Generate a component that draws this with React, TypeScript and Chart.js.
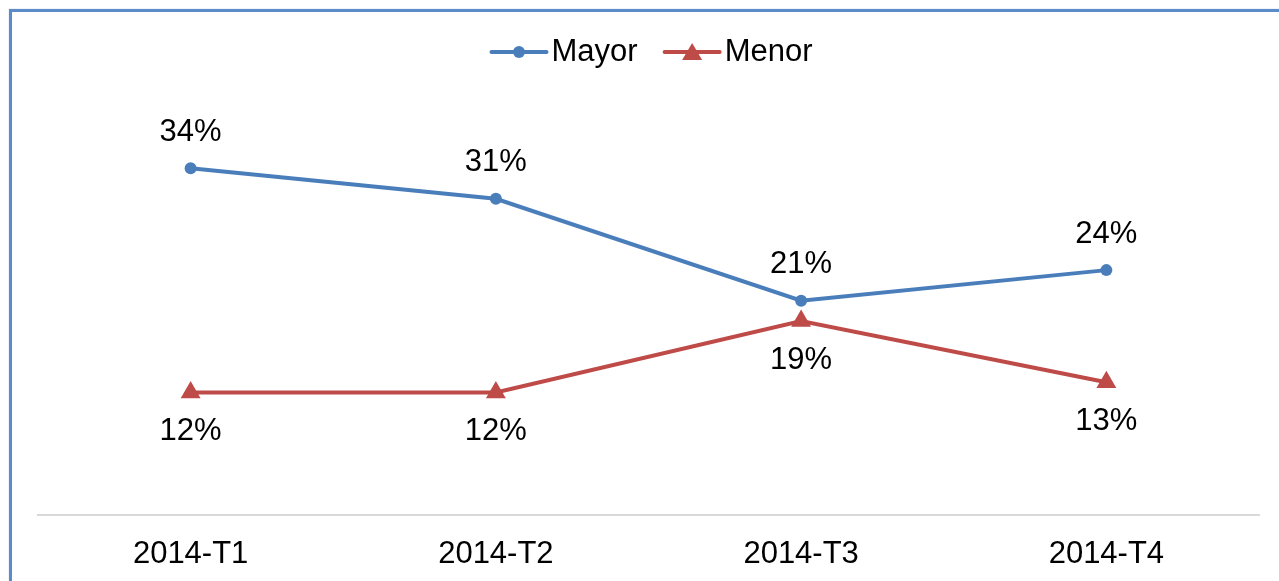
import React, { useEffect, useRef } from "react";
import { Chart, registerables } from "chart.js";

Chart.register(...registerables);

const categories = ["2014-T1", "2014-T2", "2014-T3", "2014-T4"];
const mayorValues = [34, 31, 21, 24];
const menorValues = [12, 12, 19, 13];
const seriesNames = ["Mayor", "Menor"];

const BLUE = "#4A7EBB";
const RED = "#BE4B48";
const FONT = "'Liberation Sans', Arial, sans-serif";

const dataLabelPlugin = {
  id: "dataLabels",
  afterDatasetsDraw(chart: any) {
    const ctx = chart.ctx;
    ctx.save();
    ctx.font = `31px ${FONT}`;
    ctx.fillStyle = "#000";
    ctx.textAlign = "center";
    ctx.textBaseline = "middle";
    chart.data.datasets.forEach((ds: any, i: number) => {
      const meta = chart.getDatasetMeta(i);
      meta.data.forEach((pt: any, j: number) => {
        const v = ds.data[j];
        const dy = i === 0 ? -36 : 39;
        ctx.fillText(`${v}%`, pt.x, pt.y + dy);
      });
    });
    ctx.restore();
  },
};

const legendPlugin = {
  id: "customLegend",
  afterDraw(chart: any) {
    const ctx = chart.ctx;
    ctx.save();
    ctx.font = `31px ${FONT}`;
    ctx.textBaseline = "middle";
    ctx.textAlign = "left";
    const y = 52;
    const lineW = 55;
    const gap = 5;
    const itemGap = 27;
    const widths = chart.data.datasets.map(
      (ds: any) => lineW + gap + ctx.measureText(ds.label).width
    );
    const total = widths.reduce((a: number, b: number) => a + b, 0) + itemGap * (widths.length - 1);
    let x = 652 - total / 2;
    chart.data.datasets.forEach((ds: any, i: number) => {
      ctx.strokeStyle = ds.borderColor;
      ctx.lineWidth = 4;
      ctx.lineCap = "round";
      ctx.beginPath();
      ctx.moveTo(x, y);
      ctx.lineTo(x + lineW, y);
      ctx.stroke();
      ctx.fillStyle = ds.borderColor;
      const cx = x + lineW / 2;
      ctx.beginPath();
      if (ds.pointStyle === "triangle") {
        ctx.moveTo(cx, y - 9);
        ctx.lineTo(cx + 10, y + 8);
        ctx.lineTo(cx - 10, y + 8);
        ctx.closePath();
      } else {
        ctx.arc(cx, y, 6, 0, Math.PI * 2);
      }
      ctx.fill();
      ctx.fillStyle = "#000";
      ctx.fillText(ds.label, x + lineW + gap, y);
      x += widths[i] + itemGap;
    });
    ctx.restore();
  },
};

export default function App() {
  const ref = useRef<HTMLCanvasElement>(null);
  useEffect(() => {
    if (!ref.current) return;
    const chart = new Chart(ref.current, {
      type: "line",
      data: {
        labels: categories,
        datasets: [
          {
            label: seriesNames[0],
            data: mayorValues,
            borderColor: BLUE,
            backgroundColor: BLUE,
            borderWidth: 4,
            pointStyle: "circle",
            pointRadius: 6,
            pointBorderWidth: 0,
            tension: 0,
          },
          {
            label: seriesNames[1],
            data: menorValues,
            borderColor: RED,
            backgroundColor: RED,
            borderWidth: 4,
            pointStyle: "triangle",
            pointRadius: 11.5,
            pointBorderWidth: 0,
            tension: 0,
          },
        ],
      },
      options: {
        responsive: false,
        animation: false,
        layout: { padding: { top: 107, left: 38, right: 20, bottom: 6 } },
        plugins: { legend: { display: false }, tooltip: { enabled: false } },
        scales: {
          x: {
            offset: true,
            grid: { display: false, drawTicks: false },
            border: { display: true, color: "#D9D9D9", width: 2 },
            ticks: { color: "#000", font: { size: 31, family: FONT }, padding: 21 },
          },
          y: { display: false, min: 0, max: 40 },
        },
      },
      plugins: [dataLabelPlugin, legendPlugin],
    });
    return () => chart.destroy();
  }, []);
  return (
    <div style={{ position: "fixed", left: 0, top: 0, width: 1279, height: 581, overflow: "hidden", background: "#fff" }}>
      <div
        style={{
          position: "absolute",
          left: 9,
          top: 9,
          width: 1400,
          height: 700,
          border: "3px solid #5B8BC8",
          boxShadow: "0 0 1px #9DB9DF",
        }}
      />
      <canvas ref={ref} width={1279} height={600} style={{ position: "absolute", left: 0, top: 0 }} />
    </div>
  );
}
